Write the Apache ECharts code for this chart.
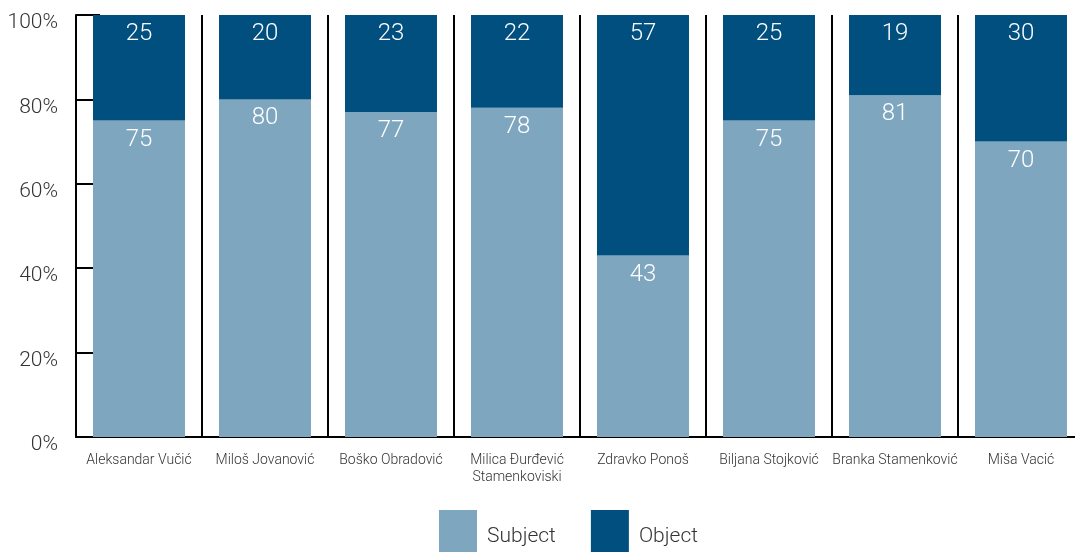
<!DOCTYPE html>
<html>
<head>
<meta charset="utf-8">
<script src="https://cdn.jsdelivr.net/npm/echarts@6/dist/echarts.min.js"></script>
<style>
  html, body { margin: 0; padding: 0; background: #fff; overflow: hidden; }
  #chart { width: 1084px; height: 570px; }
</style>
</head>
<body>
<div id="chart"></div>
<script>
// Candidates along the x axis
const categories = [
  'Aleksandar Vučić',
  'Miloš Jovanović',
  'Boško Obradović',
  'Milica Đurđević\nStamenkoviski',
  'Zdravko Ponoš',
  'Biljana Stojković',
  'Branka Stamenković',
  'Miša Vacić'
];
// Share (%) for each role
const subjectValues = [75, 80, 77, 78, 43, 75, 81, 70];
const objectValues = [25, 20, 23, 22, 57, 25, 19, 30];
const seriesNames = ['Subject', 'Object'];
const yTickStep = 20;

const FONT = 'Roboto';
const chart = echarts.init(document.getElementById('chart'));

const labelStyle = {
  show: true,
  position: 'insideTop',
  distance: 7,
  color: '#ffffff',
  fontFamily: FONT,
  fontWeight: 300,
  fontSize: 24
};

chart.setOption({
  animation: false,
  textStyle: { fontFamily: FONT },
  grid: { left: 76, top: 15, right: 0, height: 422, containLabel: false },
  legend: {
    data: seriesNames,
    top: 510,
    left: 439,
    padding: 0,
    itemWidth: 38,
    itemHeight: 54,
    itemGap: 35,
    icon: 'rect',
    textStyle: {
      fontFamily: FONT, fontSize: 21, fontWeight: 300, color: '#333',
      padding: [0, 0, 0, 5]
    }
  },
  xAxis: {
    type: 'category',
    data: categories,
    boundaryGap: true,
    axisLine: { show: true, lineStyle: { color: '#000', width: 2 } },
    axisTick: { show: false },
    splitLine: { show: true, lineStyle: { color: '#000', width: 2 } },
    axisLabel: {
      interval: 0,
      margin: 15,
      fontFamily: FONT,
      fontSize: 14,
      fontWeight: 300,
      color: '#333',
      lineHeight: 17
    }
  },
  yAxis: {
    type: 'value',
    min: 0,
    max: 100,
    interval: yTickStep,
    axisLine: { show: true, lineStyle: { color: '#000', width: 2 } },
    axisTick: { show: true, inside: true, length: 24, lineStyle: { color: '#000', width: 2 } },
    splitLine: { show: false },
    axisLabel: {
      margin: 18,
      formatter: '{value}%',
      fontFamily: FONT,
      fontSize: 21,
      fontWeight: 300,
      color: '#333',
      verticalAlign: 'top',
      lineHeight: 16
    }
  },
  series: [
    {
      name: seriesNames[0],
      type: 'bar',
      stack: 'total',
      data: subjectValues,
      barCategoryGap: '27%',
      itemStyle: { color: '#7FA6BF' },
      label: labelStyle
    },
    {
      name: seriesNames[1],
      type: 'bar',
      stack: 'total',
      data: objectValues,
      barCategoryGap: '27%',
      itemStyle: { color: '#004F7F' },
      label: labelStyle
    }
  ]
});
</script>
</body>
</html>
